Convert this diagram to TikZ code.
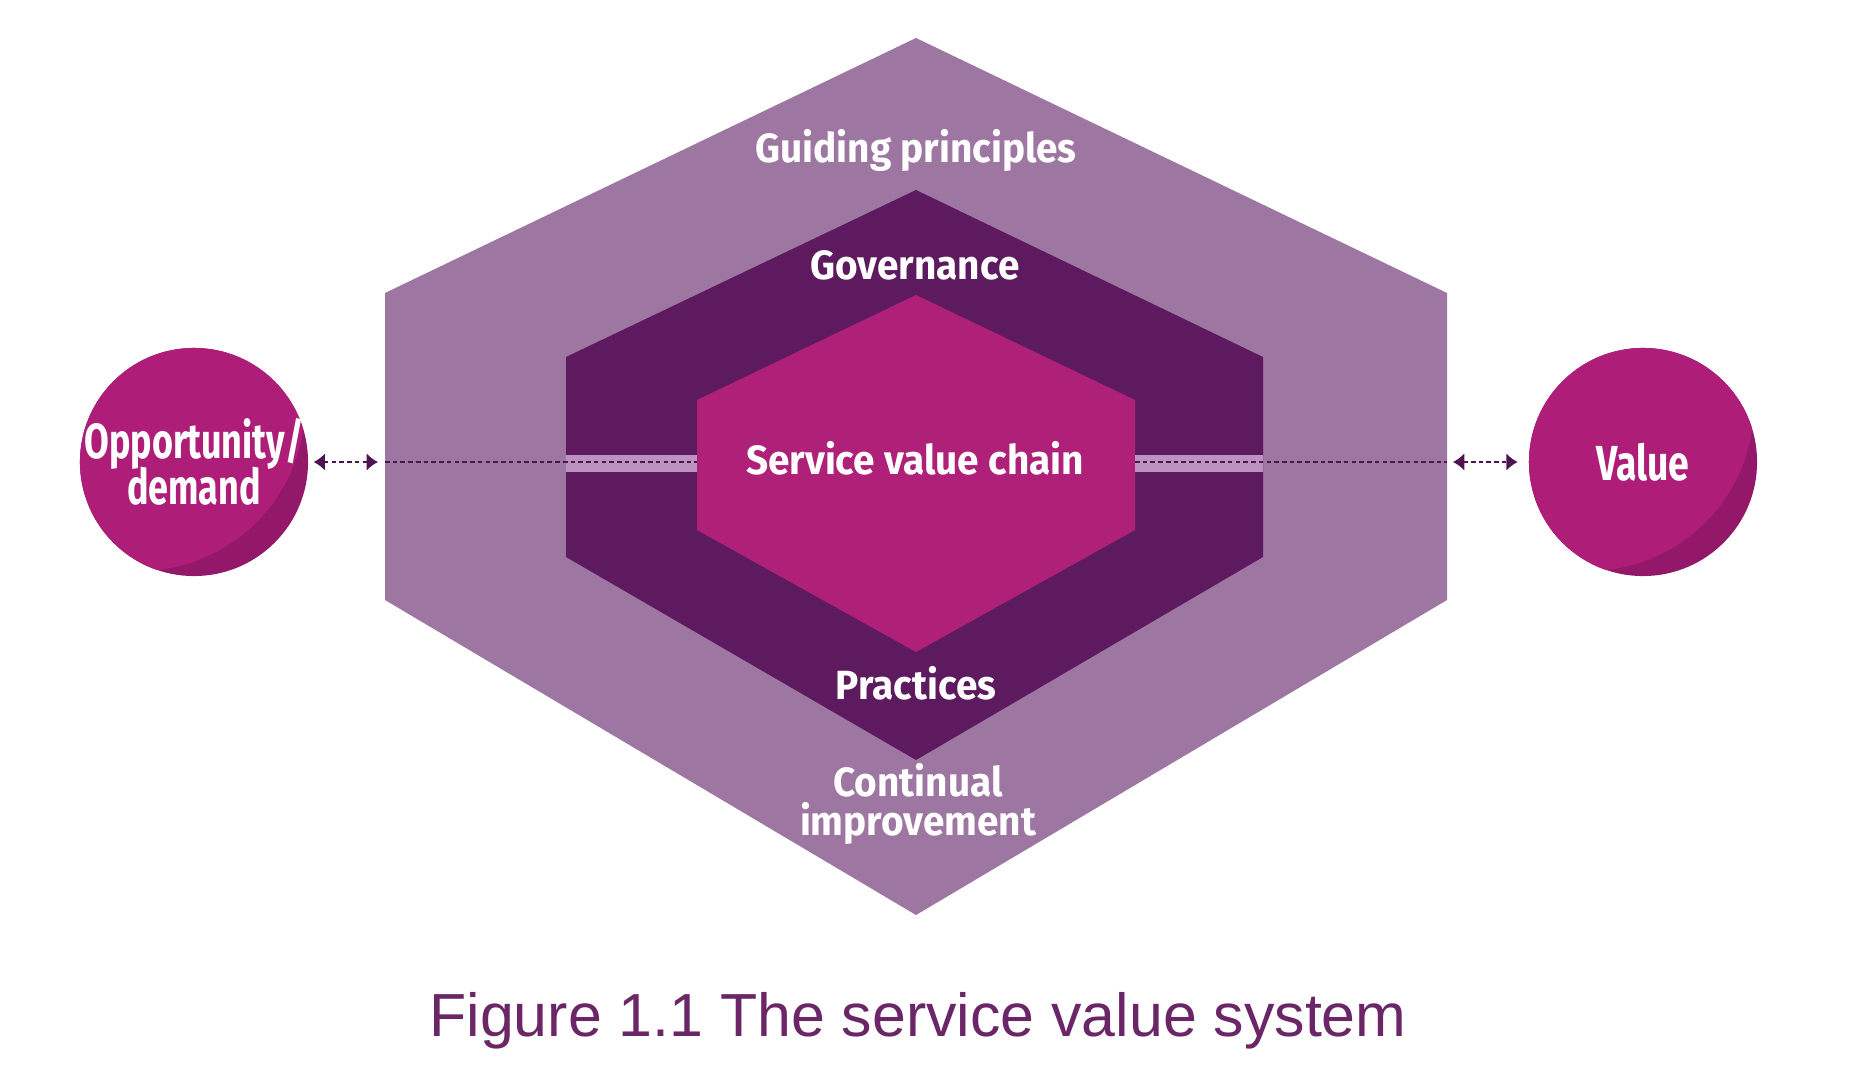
\documentclass[tikz,border=0pt]{standalone}
\usepackage{fontspec}
\usepackage{graphicx}
\usetikzlibrary{arrows.meta}
\setmainfont{Liberation Sans}
\newfontfamily\labelfont{Fira Sans}
\definecolor{guide}{HTML}{9D76A1}
\definecolor{gov}{HTML}{5E1A5F}
\definecolor{chain}{HTML}{AF2079}
\definecolor{band}{HTML}{BC93C0}
\definecolor{ink}{HTML}{4E1452}
\definecolor{orb}{HTML}{AE1E78}
\definecolor{orbdark}{HTML}{93186A}
\definecolor{capink}{HTML}{6A2666}
\newcommand{\cond}[2][0.95]{\scalebox{#1}[1]{#2}}

\begin{document}
\begin{tikzpicture}[x=0.01cm, y=-0.01cm,
  lbl/.style={text=white, font=\labelfont\bfseries\fontsize{11.6}{12}\selectfont, inner sep=0pt, align=center},
  ball/.style={circle, fill=orbdark, minimum size=2.28cm, inner sep=-20pt, text=white, align=center,
    font=\labelfont\bfseries\fontsize{14}{11.7}\selectfont,
    path picture={\fill[orb] (path picture bounding box.center) ++(-55,-57) circle (166);}},
  trace/.style={ink, line width=.6pt, dash pattern=on 1.3pt off .9pt},
  link/.style={trace, {Latex[length=3.2pt,width=5pt]}-{Latex[length=3.2pt,width=5pt]}}]
  \useasboundingbox (0,0) rectangle (1876,1082);
  % A: three nested hexagons
  \fill[guide] (916,38) -- (1447,293) -- (1447,600) -- (916,915) -- (385,600) -- (385,293) -- cycle;
  \fill[gov] (916,190) -- (1263,357) -- (1263,557) -- (916,760) -- (566,557) -- (566,357) -- cycle;
  \fill[chain] (916,295) -- (1135,400) -- (1135,530) -- (916,652) -- (697,530) -- (697,400) -- cycle;
  \coordinate (gpW) at (385,462);  \coordinate (gpE) at (1447,462);
  \coordinate (govW) at (566,462); \coordinate (govE) at (1263,462);
  \coordinate (svcW) at (697,462); \coordinate (svcE) at (1135,462);
  % B: light band through governance
  \fill[band] (566,455) rectangle (697,472);
  \fill[band] (1135,455) rectangle (1263,472);
  \draw[trace] (gpW) -- (svcW);
  \draw[trace] (svcE) -- (gpE);
  % C: labels
  \node[lbl] (guiding) at (916,150) {\cond{Guiding principles}};
  \node[lbl] (governance) at (915,265) {\cond{Governance}};
  \node[lbl] (svc) at (915,458) {\cond{Service value chain}};
  \node[lbl] (practices) at (916,683) {\cond{Practices}};
  \node[lbl] (improve) at (918,804)
    {\cond{Continual}\\[-1pt]\cond{improvement}};
  % D: the two orbs and their links
  \node[ball] (opp) at (194,462) {\cond[0.73]{Opportunity/}\\[-1.5pt]\cond[0.73]{demand}};
  \node[ball] (val) at (1643,462) {\cond[0.76]{Value}};
  \draw[link, shorten <=1.4pt, shorten >=2pt] (opp.east) -- (gpW);
  \draw[link, shorten <=1.7pt, shorten >=3pt] (gpE) -- (val.west);
  \node[font=\fontsize{17.3}{20}\selectfont, text=capink, anchor=base] (cap) at (918,1036)
    {Figure 1.1 The service value system};
\end{tikzpicture}
\end{document}
